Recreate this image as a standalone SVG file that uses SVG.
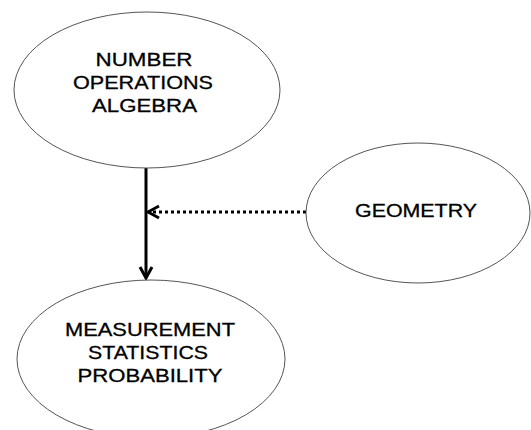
<svg xmlns="http://www.w3.org/2000/svg" width="531" height="430" viewBox="0 0 531 430">
<defs>
<style>
.node ellipse{fill:#fff;stroke:#555;stroke-width:1}
.node text{font-family:"Liberation Sans",Arial,sans-serif;font-size:19px;fill:#000;stroke:#000;stroke-width:0.3;text-anchor:middle}
.conn{fill:none;stroke:#000;stroke-width:3}
</style>
<marker id="chev" viewBox="0 0 16 16" refX="14" refY="8" markerWidth="16" markerHeight="16" markerUnits="userSpaceOnUse" orient="auto">
<path d="M3,2 L14,8 L3,14" fill="none" stroke="#000" stroke-width="3"/>
</marker>
</defs>
<rect width="531" height="430" fill="#fff"/>
<g id="connectors">
<line class="conn" x1="146" y1="168" x2="146" y2="278" marker-end="url(#chev)"/>
<line class="conn" x1="306" y1="212" x2="148" y2="212" stroke-dasharray="3,3" marker-end="url(#chev)"/>
</g>
<g id="n1" class="node">
<ellipse cx="147" cy="90" rx="133" ry="78"/>
<text x="144" y="66" textLength="97" lengthAdjust="spacingAndGlyphs">NUMBER</text>
<text x="143" y="89" textLength="140" lengthAdjust="spacingAndGlyphs">OPERATIONS</text>
<text x="144.5" y="112" textLength="105" lengthAdjust="spacingAndGlyphs">ALGEBRA</text>
</g>
<g id="n2" class="node">
<ellipse cx="418" cy="213" rx="112" ry="70"/>
<text x="416" y="217" textLength="122" lengthAdjust="spacingAndGlyphs">GEOMETRY</text>
</g>
<g id="n3" class="node">
<ellipse cx="151" cy="359" rx="134" ry="79"/>
<text x="150" y="336" textLength="170" lengthAdjust="spacingAndGlyphs">MEASUREMENT</text>
<text x="148" y="359" textLength="120" lengthAdjust="spacingAndGlyphs">STATISTICS</text>
<text x="150" y="382" textLength="145" lengthAdjust="spacingAndGlyphs">PROBABILITY</text>
</g>
</svg>
